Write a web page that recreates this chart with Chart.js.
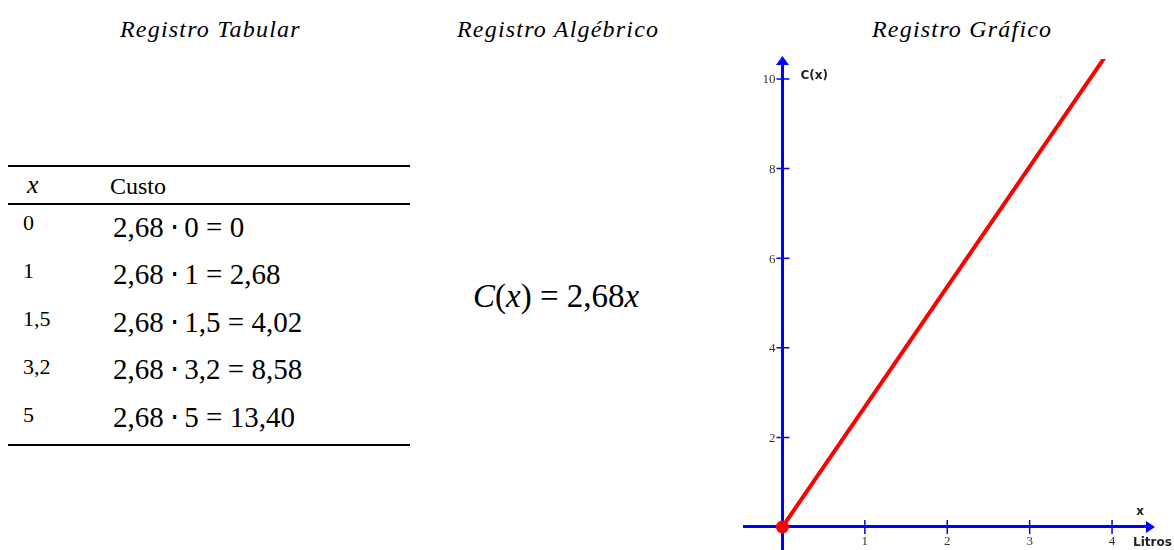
<!DOCTYPE html>
<html>
<head>
<meta charset="utf-8">
<script src="https://cdn.jsdelivr.net/npm/chart.js@4.4.0/dist/chart.umd.min.js"></script>
<style>
  body { margin: 0; background: #fff; }
  #page { position: relative; width: 1174px; height: 550px; overflow: hidden; font-family: 'Liberation Serif', 'Times New Roman', serif; color: #000; }
  .title { position: absolute; font-family: 'Liberation Serif', serif; font-style: italic; font-size: 24px; line-height: 1; letter-spacing: 1.2px; white-space: nowrap; }
  .rule { position: absolute; left: 8px; width: 402px; height: 2px; background: #000; }
  .cell { position: absolute; font-family: 'Liberation Serif', serif; line-height: 1; white-space: nowrap; }
  #graph { position: absolute; left: 738px; top: 50px; width: 436px; height: 508px; }
</style>
</head>
<body>
<div id="page">
  <div class="title" style="left:120px; top:17px;">Registro Tabular</div>
  <div class="title" style="left:457px; top:17px;">Registro Algébrico</div>
  <div class="title" style="left:872px; top:17px;">Registro Gráfico</div>

  <div class="rule" style="top:165px;"></div>
  <div class="rule" style="top:203px;"></div>
  <div class="rule" style="top:444px;"></div>
  <div class="cell" style="left:27px; top:172px; font-size:26px; font-style:italic;">x</div>
  <div class="cell" style="left:110px; top:174px; font-size:24px;">Custo</div>
  <div id="rows"></div>

  <div class="cell" style="left:473px; top:280px; font-size:33px;"><i>C</i>(<i>x</i>) = 2,68<i>x</i></div>

  <div id="graph"><canvas id="custoChart"></canvas></div>
</div>
<script>
// litros x custo (R$ 2,68 por litro)
const litros = [0, 1, 1.5, 3.2, 5];
const custo = [0, 2.68, 4.02, 8.58, 13.40];
const xTicks = [1, 2, 3, 4];
const yTicks = [2, 4, 6, 8, 10];

const axisBlue = '#0000ff';
const lineRed = '#ff0000';

function fmt(v, dec) {
    if (v === 0) return '0';
    return (dec ? v.toFixed(dec) : String(v)).replace('.', ',');
}

// table rows
const rowsEl = document.getElementById('rows');
litros.forEach((x, i) => {
    const left = document.createElement('div');
    left.className = 'cell';
    left.style.cssText = `left:23px; top:${230 + i * 48 - 18.4}px; font-size:22px;`;
    left.textContent = fmt(x);
    rowsEl.appendChild(left);

    const right = document.createElement('div');
    right.className = 'cell';
    right.style.cssText = `left:113px; top:${237 + i * 47.5 - 24.3}px; font-size:29px;`;
    right.textContent = `2,68\u2009\u22C5\u2009${fmt(x)} = ${fmt(custo[i], 2)}`;
    rowsEl.appendChild(right);
});

// arrows, crossing ticks, tick labels and axis names
const axisDecor = {
    id: 'axisDecor',
    afterDraw(chart) {
        const { ctx, chartArea, scales: { x, y } } = chart;
        const x0 = x.getPixelForValue(0);
        const y0 = y.getPixelForValue(0);
        ctx.save();
        ctx.strokeStyle = axisBlue;
        ctx.lineWidth = 1.5;
        ctx.beginPath();
        xTicks.forEach(v => {
            const px = x.getPixelForValue(v);
            ctx.moveTo(px, y0 - 7);
            ctx.lineTo(px, y0 + 7);
        });
        yTicks.forEach(v => {
            const py = y.getPixelForValue(v);
            ctx.moveTo(x0 - 6, py);
            ctx.lineTo(x0 + 7, py);
        });
        ctx.stroke();

        ctx.fillStyle = axisBlue;
        ctx.beginPath();
        ctx.moveTo(x0, chartArea.top - 3);
        ctx.lineTo(x0 - 6.5, chartArea.top + 6);
        ctx.lineTo(x0 + 6.5, chartArea.top + 6);
        ctx.closePath();
        ctx.fill();
        ctx.beginPath();
        ctx.moveTo(chartArea.right + 8, y0);
        ctx.lineTo(chartArea.right - 1, y0 - 6);
        ctx.lineTo(chartArea.right - 1, y0 + 6);
        ctx.closePath();
        ctx.fill();

        // tick labels
        ctx.fillStyle = '#333';
        ctx.font = "13px 'Liberation Serif', serif";
        ctx.textAlign = 'center';
        ctx.textBaseline = 'top';
        xTicks.forEach(v => ctx.fillText(String(v), x.getPixelForValue(v), y0 + 8));
        ctx.font = "13px 'Liberation Serif', serif";
        ctx.textAlign = 'right';
        ctx.textBaseline = 'middle';
        yTicks.forEach(v => ctx.fillText(String(v), x0 - 7, y.getPixelForValue(v) + 1));

        // axis names
        ctx.fillStyle = '#222';
        ctx.font = "bold 12px 'DejaVu Sans', sans-serif";
        ctx.textBaseline = 'middle';
        ctx.textAlign = 'left';
        ctx.fillText('C(x)', x0 + 18, y.getPixelForValue(10) - 3);
        ctx.textAlign = 'center';
        ctx.fillText('x', chartArea.right - 7, y0 - 15);
        ctx.textAlign = 'left';
        ctx.fillText('Litros', chartArea.right - 14, y0 + 16);
        ctx.restore();
    }
};

new Chart(document.getElementById('custoChart').getContext('2d'), {
    type: 'line',
    data: {
        datasets: [{
            label: 'C(x)',
            data: litros.map((v, i) => ({ x: v, y: custo[i] })),
            borderColor: lineRed,
            borderWidth: 4,
            pointRadius: litros.map((v, i) => i === 0 ? 6.5 : 0),
            pointBackgroundColor: lineRed,
            pointBorderWidth: 0,
            tension: 0
        }]
    },
    options: {
        responsive: true,
        maintainAspectRatio: false,
        animation: false,
        layout: { padding: { left: 6, top: 9, right: 27, bottom: 0 } },
        plugins: {
            legend: { display: false },
            tooltip: { enabled: false }
        },
        scales: {
            x: {
                type: 'linear',
                position: { y: 0 },
                min: -0.4606,
                max: 4.424,
                border: { color: axisBlue, width: 3 },
                grid: { drawOnChartArea: false, drawTicks: false },
                ticks: { display: false }
            },
            y: {
                type: 'linear',
                position: { x: 0 },
                min: -0.5475,
                max: 10.447,
                border: { color: axisBlue, width: 3 },
                grid: { drawOnChartArea: false, drawTicks: false },
                ticks: { display: false }
            }
        }
    },
    plugins: [axisDecor]
});
</script>
</body>
</html>
